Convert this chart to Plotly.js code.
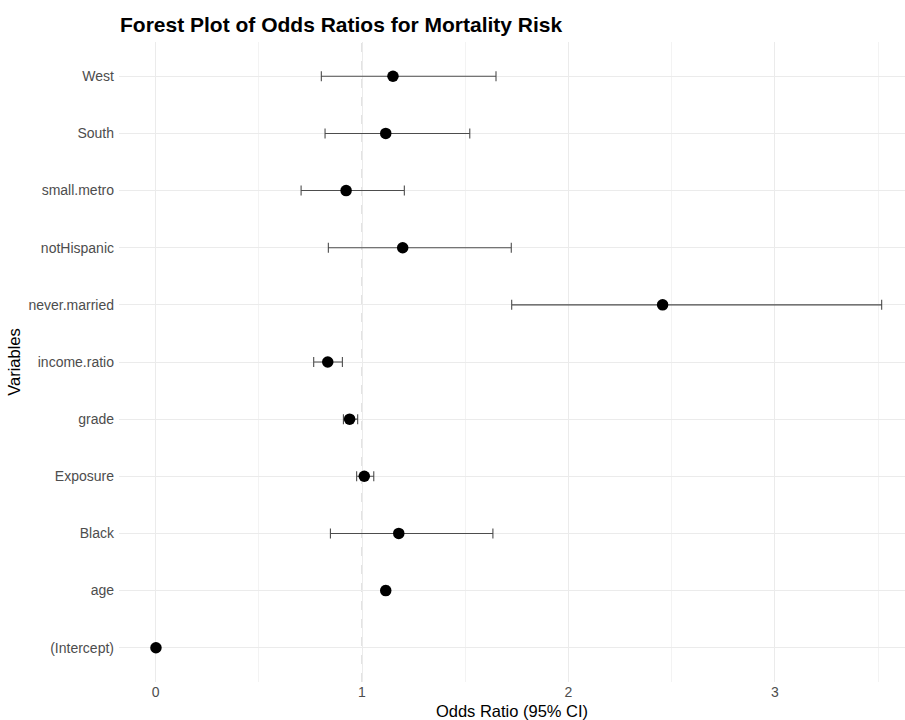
<!DOCTYPE html>
<html>
<head>
<meta charset="utf-8">
<script src="https://cdn.plot.ly/plotly-3.0.1.min.js"></script>
<style>
  html, body { margin: 0; padding: 0; background: #ffffff; }
  #chart { width: 905px; height: 720px; }
</style>
</head>
<body>
<div id="chart"></div>
<script>
// Variables (bottom to top as drawn)
var variables = ['(Intercept)', 'age', 'Black', 'Exposure', 'grade', 'income.ratio',
                 'never.married', 'notHispanic', 'small.metro', 'South', 'West'];
// Odds ratios and 95% CI bounds
var oddsRatio = [0.002, 1.115, 1.178, 1.011, 0.940, 0.834, 2.456, 1.197, 0.923, 1.115, 1.150];
var ciLower   = [0.0005, 1.103, 0.847, 0.974, 0.910, 0.766, 1.725, 0.837, 0.705, 0.821, 0.803];
var ciUpper   = [0.004, 1.128, 1.634, 1.057, 0.979, 0.905, 3.517, 1.723, 1.205, 1.522, 1.649];
var xTickVals = [0, 1, 2, 3];
var xTickText = ['0', '1', '2', '3'];

var errPlus = oddsRatio.map(function (v, i) { return ciUpper[i] - v; });
var errMinus = oddsRatio.map(function (v, i) { return v - ciLower[i]; });

var FONT = 'Liberation Sans, Arial, Helvetica, sans-serif';

var trace = {
  type: 'scatter',
  mode: 'markers',
  x: oddsRatio,
  y: variables,
  marker: { color: '#000000', size: 11.5 },
  error_x: {
    type: 'data',
    symmetric: false,
    array: errPlus,
    arrayminus: errMinus,
    color: '#4d4d4d',
    thickness: 1.1,
    width: 5
  },
  hoverinfo: 'x+y',
  showlegend: false
};

var layout = {
  width: 905,
  height: 720,
  paper_bgcolor: '#ffffff',
  plot_bgcolor: '#ffffff',
  margin: { l: 119, r: 0, t: 42, b: 38, pad: 0 },
  font: { family: FONT, color: '#4d4d4d' },
  title: {
    text: '<b>Forest Plot of Odds Ratios for Mortality Risk</b>',
    font: { family: FONT, size: 21, color: '#000000' },
    xref: 'container', x: 120 / 905, xanchor: 'left',
    yref: 'container', y: 1 - 25 / 720, yanchor: 'middle'
  },
  xaxis: {
    range: [-0.177, 3.63],
    tickvals: xTickVals,
    ticktext: xTickText,
    ticks: '',
    showline: false,
    zeroline: false,
    showgrid: true,
    gridcolor: '#ebebeb',
    gridwidth: 1,
    minor: { dtick: 0.5, tick0: 0, showgrid: true, gridcolor: '#f3f3f3', gridwidth: 1, ticks: '' },
    tickfont: { family: FONT, size: 14, color: '#4d4d4d' },
    title: { text: 'Odds Ratio (95% CI)', font: { family: FONT, size: 16.5, color: '#000000' }, standoff: 7 },
    fixedrange: true
  },
  yaxis: {
    type: 'category',
    categoryorder: 'array',
    categoryarray: variables,
    range: [-0.6, 10.6],
    ticks: '',
    showline: false,
    zeroline: false,
    showgrid: true,
    gridcolor: '#ebebeb',
    gridwidth: 1,
    tickfont: { family: FONT, size: 14, color: '#4d4d4d' },
    ticklabelstandoff: 4,
    title: { text: 'Variables', font: { family: FONT, size: 16.5, color: '#000000' }, standoff: 3 },
    fixedrange: true
  },
  shapes: [{
    type: 'line',
    xref: 'x', yref: 'paper',
    x0: 1, x1: 1, y0: 0, y1: 1,
    layer: 'below',
    line: { color: '#cccccc', width: 1.1, dash: 'dash' }
  }]
};

Plotly.newPlot('chart', [trace], layout, { displayModeBar: false, staticPlot: true });
</script>
</body>
</html>
